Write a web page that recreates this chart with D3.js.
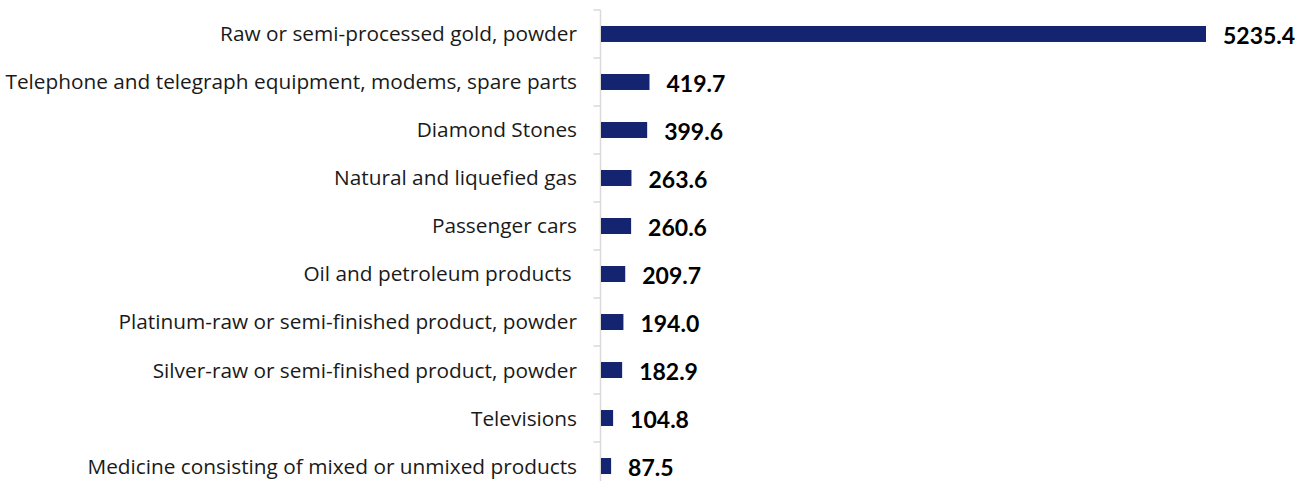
<!DOCTYPE html>
<html>
<head>
<meta charset="utf-8">
<script src="https://cdn.jsdelivr.net/npm/d3@7"></script>
<style>
  html, body { margin: 0; padding: 0; background: #ffffff; }
  svg { display: block; }
  text { white-space: pre; }
</style>
</head>
<body>
<div id="chart"></div>
<script>
// Top export products by value
const categories = [
  "Raw or semi-processed gold, powder",
  "Telephone and telegraph equipment, modems, spare parts",
  "Diamond Stones",
  "Natural and liquefied gas",
  "Passenger cars",
  "Oil and petroleum products ",
  "Platinum-raw or semi-finished product, powder",
  "Silver-raw or semi-finished product, powder",
  "Televisions",
  "Medicine consisting of mixed or unmixed products"
];
const values = [5235.4, 419.7, 399.6, 263.6, 260.6, 209.7, 194.0, 182.9, 104.8, 87.5];

const width = 1298, height = 481;
const margin = { top: 10, left: 601, right: 92 };
const band = 48;

const svg = d3.select("#chart").append("svg")
  .attr("width", width).attr("height", height);

const x = d3.scaleLinear()
  .domain([0, 5235.4])
  .range([margin.left, margin.left + 605]);

const y = d3.scaleBand()
  .domain(categories)
  .range([margin.top, margin.top + band * categories.length])
  .paddingInner(0.667)
  .paddingOuter(0.333);

// category axis with gray ticks between bands
const axisX = margin.left - 0.5;
svg.append("line")
  .attr("x1", axisX).attr("x2", axisX)
  .attr("y1", margin.top).attr("y2", height)
  .attr("stroke", "#d9d9d9").attr("stroke-width", 1.5);

const tickPos = d3.range(categories.length + 1).map(i => margin.top + i * band);
svg.selectAll("line.tick").data(tickPos).join("line")
  .attr("class", "tick")
  .attr("x1", axisX - 7).attr("x2", axisX)
  .attr("y1", d => d).attr("y2", d => d)
  .attr("stroke", "#d9d9d9").attr("stroke-width", 1.5);

// bars
svg.selectAll("rect.bar").data(values).join("rect")
  .attr("class", "bar")
  .attr("x", x(0))
  .attr("y", (d, i) => y(categories[i]))
  .attr("width", d => x(d) - x(0))
  .attr("height", y.bandwidth())
  .attr("fill", "#152470");

// category labels
svg.selectAll("text.cat").data(categories).join("text")
  .attr("class", "cat")
  .attr("x", 577)
  .attr("y", d => y(d) + y.bandwidth() / 2)
  .attr("dy", "0.36em")
  .attr("text-anchor", "end")
  .attr("font-family", "'Open Sans', Lato, sans-serif")
  .attr("font-size", 20.8)
  .attr("fill", "#1a1a1a")
  .text(d => d);

// value labels
svg.selectAll("text.val").data(values).join("text")
  .attr("class", "val")
  .attr("x", d => x(d) + 17)
  .attr("y", (d, i) => y(categories[i]) + y.bandwidth() / 2)
  .attr("dy", "0.42em")
  .attr("font-family", "Lato, 'Open Sans', sans-serif")
  .attr("font-weight", "bold")
  .attr("font-size", 23)
  .attr("fill", "#000")
  .text(d => d3.format(".1f")(d));
</script>
</body>
</html>
